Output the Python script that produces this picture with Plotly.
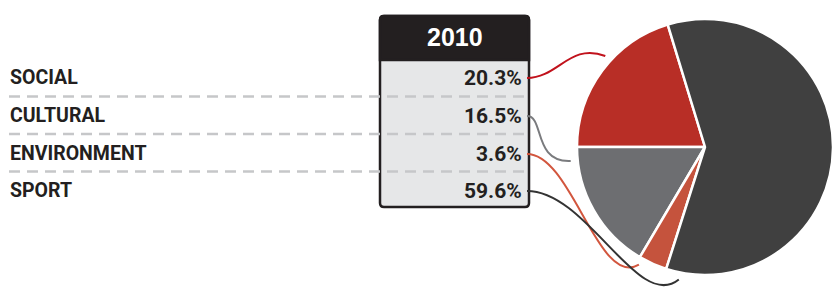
import math
import plotly.graph_objects as go

# ---- data ----
categories = ["SOCIAL", "CULTURAL", "ENVIRONMENT", "SPORT"]
values = [20.3, 16.5, 3.6, 59.6]
value_labels = ["20.3%", "16.5%", "3.6%", "59.6%"]
year_label = "2010"

# ---- style ----
slice_colors = ["#b82e26", "#6d6e71", "#c5533d", "#404040"]
line_colors = ["#c1121c", "#7a7b7e", "#d2563e", "#333333"]
anchor_frac = [0.58, 0.1, 0.1, 0.03]   # where each connector meets its slice (fraction from 9 o'clock side)
INK = "#231f20"
FONT = "Roboto, Lato, sans-serif"

W, H = 833, 289
row_y = [78, 116, 154, 191]
sep_y = [96.5, 134, 171.5]
tbl_x0, tbl_x1, tbl_y0, tbl_hdr, tbl_y1 = 380, 529, 16, 60, 207

dom_x = [577 / W, 1.0]
cy_px = 147
dom_y = [0.0, 2 * (H - cy_px) / H]
cx = (dom_x[0] + dom_x[1]) / 2 * W
r = min((dom_x[1] - dom_x[0]) * W, (dom_y[1] - dom_y[0]) * H) / 2

fig = go.Figure()
fig.add_trace(go.Scatter(x=[0, W], y=[0, H], mode="markers",
                         marker=dict(opacity=0), hoverinfo="skip", showlegend=False))
# counterclockwise: first slice (social) spans clockwise from 9 o'clock, the rest go counterclockwise
fig.add_trace(go.Pie(
    labels=categories, values=values,
    marker=dict(colors=slice_colors, line=dict(color="white", width=2.5)),
    sort=False, direction="counterclockwise", rotation=-90,
    textinfo="none", hoverinfo="label+percent", showlegend=False,
    domain=dict(x=dom_x, y=dom_y),
))

shapes = []
rad = 4
shapes.append(dict(
    type="path", xref="x", yref="y", layer="below",
    path=(f"M {tbl_x0+rad},{tbl_y0} L {tbl_x1-rad},{tbl_y0} Q {tbl_x1},{tbl_y0} {tbl_x1},{tbl_y0+rad} "
          f"L {tbl_x1},{tbl_y1-rad} Q {tbl_x1},{tbl_y1} {tbl_x1-rad},{tbl_y1} "
          f"L {tbl_x0+rad},{tbl_y1} Q {tbl_x0},{tbl_y1} {tbl_x0},{tbl_y1-rad} "
          f"L {tbl_x0},{tbl_y0+rad} Q {tbl_x0},{tbl_y0} {tbl_x0+rad},{tbl_y0} Z"),
    fillcolor="#e6e7e8", line=dict(color=INK, width=2.5)))
shapes.append(dict(
    type="path", xref="x", yref="y", layer="below",
    path=(f"M {tbl_x0+rad},{tbl_y0} L {tbl_x1-rad},{tbl_y0} Q {tbl_x1},{tbl_y0} {tbl_x1},{tbl_y0+rad} "
          f"L {tbl_x1},{tbl_hdr} L {tbl_x0},{tbl_hdr} L {tbl_x0},{tbl_y0+rad} Q {tbl_x0},{tbl_y0} {tbl_x0+rad},{tbl_y0} Z"),
    fillcolor=INK, line=dict(color=INK, width=2.5)))
for y in sep_y:
    shapes.append(dict(type="line", xref="x", yref="y", layer="below",
                       x0=9, x1=527, y0=y, y1=y,
                       line=dict(color="#c6c7c9", width=2.5, dash="11px,7px")))

# slice angles (math convention), from 9 o'clock: social clockwise (up), others counterclockwise (down)
total = sum(values)
ang = {}
soc_span = 360.0 * values[0] / total
ang[0] = 180.0 - anchor_frac[0] * soc_span
start = 180.0
for i in range(1, len(values)):
    span = 360.0 * values[i] / total
    ang[i] = start + anchor_frac[i] * span
    start += span
for i in range(len(categories)):
    a = math.radians(ang[i])
    ux, uy = math.cos(a), -math.sin(a)
    ex, ey = cx + (r + 7) * ux, cy_px + (r + 7) * uy
    sx, sy = 527, row_y[i]
    dist = math.hypot(ex - sx, ey - sy)
    L = max(0.3 * dist, 38)
    dx_, dy_ = ux - 1.0, uy
    n = math.hypot(dx_, dy_)
    dx_, dy_ = dx_ / n, dy_ / n
    c1x, c1y = sx + 0.4 * max(ex - sx, 20), sy
    c2x, c2y = ex + dx_ * L, ey + dy_ * L
    shapes.append(dict(type="path", xref="x", yref="y", layer="above",
                       path=f"M {sx},{sy} C {c1x:.1f},{c1y:.1f} {c2x:.1f},{c2y:.1f} {ex:.1f},{ey:.1f}",
                       line=dict(color=line_colors[i], width=2)))

annotations = []
annotations.append(dict(x=(tbl_x0 + tbl_x1) / 2, y=(tbl_y0 + tbl_hdr) / 2 - 1, xref="x", yref="y",
                        text=year_label, showarrow=False, xanchor="center", yanchor="middle",
                        font=dict(family="Liberation Sans, Arial, sans-serif", size=25,
                                  color="white", weight="bold")))
for i, c in enumerate(categories):
    annotations.append(dict(x=8, y=row_y[i] - 1, xref="x", yref="y", text=c, showarrow=False,
                            xanchor="left", yanchor="middle",
                            font=dict(family=FONT, size=19.5, color=INK, weight="bold")))
    annotations.append(dict(x=524, y=row_y[i], xref="x", yref="y", text=value_labels[i],
                            showarrow=False, xanchor="right", yanchor="middle",
                            font=dict(family=FONT, size=21, color=INK, weight="bold")))

fig.update_layout(
    width=W, height=H, margin=dict(l=0, r=0, t=0, b=0),
    paper_bgcolor="white", plot_bgcolor="white",
    xaxis=dict(range=[0, W], visible=False, fixedrange=True),
    yaxis=dict(range=[H, 0], visible=False, fixedrange=True),
    shapes=shapes, annotations=annotations, showlegend=False,
)
fig.write_html("out.html", config={"displayModeBar": False},
               post_script="document.body.style.margin='0';")
